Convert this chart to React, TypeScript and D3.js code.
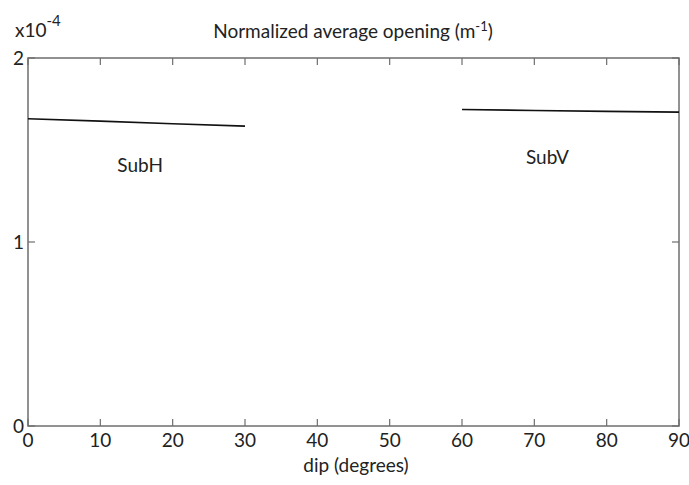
import React, { useEffect, useRef } from "react";
import * as d3 from "d3";

const subHDip = [0, 10, 20, 30];
const subHOpening = [1.67e-4, 1.657e-4, 1.643e-4, 1.63e-4];
const subVDip = [60, 70, 80, 90];
const subVOpening = [1.72e-4, 1.715e-4, 1.71e-4, 1.706e-4];
const xTicks = [0, 10, 20, 30, 40, 50, 60, 70, 80, 90];
const yTicks = [0, 1e-4, 2e-4];
const yTickLabels = ["0", "1", "2"];

const App: React.FC = () => {
  const ref = useRef<SVGSVGElement>(null);

  useEffect(() => {
    if (!ref.current) return;
    const svg = d3.select(ref.current);
    svg.selectAll("*").remove();

    const width = 689;
    const height = 485;
    const margin = { top: 58, right: 10, bottom: 59, left: 28 };
    const font = "Lato, 'Open Sans', sans-serif";
    const fs = 19;
    const axisColor = "#6e6e6e";

    const x = d3.scaleLinear().domain([0, 90]).range([margin.left, width - margin.right]);
    const y = d3.scaleLinear().domain([0, 2e-4]).range([height - margin.bottom, margin.top]);

    const g = svg.append("g");

    // box
    g.append("rect")
      .attr("x", x(0))
      .attr("y", y(2e-4))
      .attr("width", x(90) - x(0))
      .attr("height", y(0) - y(2e-4))
      .attr("fill", "none")
      .attr("stroke", axisColor)
      .attr("stroke-width", 1.5);

    // x ticks, bottom and top, pointing in
    xTicks.forEach((t) => {
      g.append("line").attr("x1", x(t)).attr("x2", x(t)).attr("y1", y(0)).attr("y2", y(0) - 7)
        .attr("stroke", axisColor).attr("stroke-width", 1.2);
      g.append("line").attr("x1", x(t)).attr("x2", x(t)).attr("y1", y(2e-4)).attr("y2", y(2e-4) + 7)
        .attr("stroke", axisColor).attr("stroke-width", 1.2);
      g.append("text").attr("x", x(t)).attr("y", y(0) + 21)
        .attr("text-anchor", "middle").attr("font-family", font).attr("font-size", fs)
        .attr("fill", "#222").text(t);
    });

    // y ticks, left and right
    yTicks.forEach((t, i) => {
      g.append("line").attr("x1", x(0)).attr("x2", x(0) + 7).attr("y1", y(t)).attr("y2", y(t))
        .attr("stroke", axisColor).attr("stroke-width", 1.2);
      g.append("line").attr("x1", x(90)).attr("x2", x(90) - 7).attr("y1", y(t)).attr("y2", y(t))
        .attr("stroke", axisColor).attr("stroke-width", 1.2);
      g.append("text").attr("x", x(0) - 4).attr("y", y(t) + 7)
        .attr("text-anchor", "end").attr("font-family", font).attr("font-size", fs)
        .attr("fill", "#222").text(yTickLabels[i]);
    });

    // exponent
    const ex = g.append("text").attr("x", 15).attr("y", 37)
      .attr("font-family", font).attr("font-size", fs).attr("fill", "#222");
    ex.append("tspan").text("x10");
    ex.append("tspan").attr("dy", -11).attr("font-size", 15).text("-4");

    // title
    const title = g.append("text").attr("x", 353).attr("y", 38)
      .attr("text-anchor", "middle").attr("font-family", font).attr("font-size", fs).attr("fill", "#222");
    title.append("tspan").text("Normalized average opening (m");
    title.append("tspan").attr("dy", -7).attr("font-size", 13).text("-1");
    title.append("tspan").attr("dy", 7).text(")");

    // x label
    g.append("text").attr("x", 356).attr("y", 472)
      .attr("text-anchor", "middle").attr("font-family", font).attr("font-size", fs)
      .attr("fill", "#222").text("dip (degrees)");

    const line = d3.line<[number, number]>().x((d) => x(d[0])).y((d) => y(d[1]));

    const subH = subHDip.map((d, i) => [d, subHOpening[i]] as [number, number]);
    const subV = subVDip.map((d, i) => [d, subVOpening[i]] as [number, number]);

    [subH, subV].forEach((data) => {
      g.append("path").datum(data).attr("d", line)
        .attr("fill", "none").attr("stroke", "#111").attr("stroke-width", 1.6);
    });

    g.append("text").attr("x", x(15.5)).attr("y", 172)
      .attr("text-anchor", "middle").attr("font-family", font).attr("font-size", fs)
      .attr("fill", "#222").text("SubH");
    g.append("text").attr("x", x(71.8)).attr("y", 164)
      .attr("text-anchor", "middle").attr("font-family", font).attr("font-size", fs)
      .attr("fill", "#222").text("SubV");
  }, []);

  return <svg ref={ref} width={689} height={485} style={{ position: "absolute", left: 0, top: 0 }}></svg>;
};

export default App;
